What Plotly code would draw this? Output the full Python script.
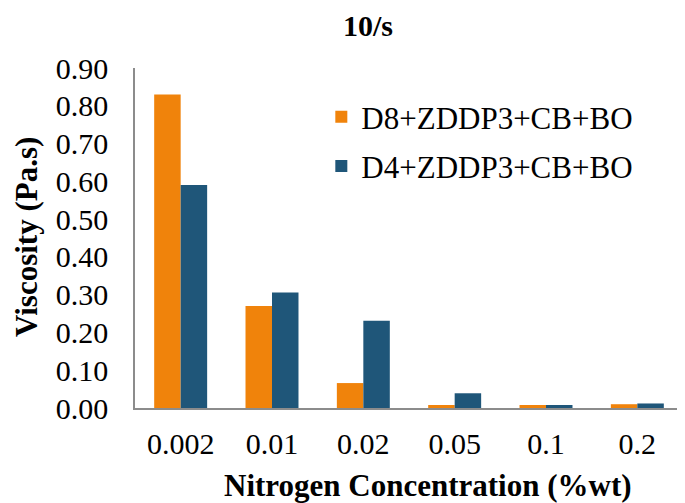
import plotly.graph_objects as go

categories = ["0.002", "0.01", "0.02", "0.05", "0.1", "0.2"]
d8_values = [0.83, 0.27, 0.066, 0.008, 0.008, 0.010]
d4_values = [0.59, 0.306, 0.231, 0.039, 0.008, 0.012]
series_names = ["D8+ZDDP3+CB+BO", "D4+ZDDP3+CB+BO"]
y_ticks = [0.0, 0.1, 0.2, 0.3, 0.4, 0.5, 0.6, 0.7, 0.8, 0.9]

FONT = "Times New Roman, Liberation Serif, serif"
OFF = 8  # page body margin offset

fig = go.Figure()
fig.add_trace(go.Bar(x=categories, y=d8_values, name=series_names[0],
                     marker=dict(color="#F0830B", line=dict(width=0)),
                     legendgroup="a"))
fig.add_trace(go.Bar(x=categories, y=d4_values, name=series_names[1],
                     marker=dict(color="#1F5679", line=dict(width=0)),
                     legendgroup="b"))

W, H = 685 - OFF, 503 - OFF
PL, PR, PT, PB = 135, 683, 68, 408  # plot area in page pixels


def px2paper_x(px):
    return (px - PL) / (PR - PL)


def px2paper_y(py):
    return (PB - py) / (PB - PT)


fig.update_layout(
    width=W, height=H,
    margin=dict(l=PL - OFF, r=W - (PR - OFF), t=PT - OFF, b=H - (PB - OFF),
                autoexpand=False),
    paper_bgcolor="white", plot_bgcolor="white",
    font=dict(family=FONT, color="black"),
    barmode="group", bargap=0.42, bargroupgap=0,
    legend=dict(x=0.34, y=0.935, xanchor="left", yanchor="top",
                font=dict(size=31, family=FONT),
                traceorder="grouped", tracegroupgap=6,
                bgcolor="rgba(0,0,0,0)"),
    xaxis=dict(showline=True, linecolor="#8C8C8C", linewidth=2,
               ticks="", showgrid=False, automargin=False,
               tickfont=dict(size=30, family=FONT),
               ticklabelstandoff=8),
    yaxis=dict(range=[0, 0.9], tickvals=y_ticks,
               ticktext=[f"{v:.2f}" for v in y_ticks],
               showline=True, linecolor="#8C8C8C", linewidth=1.5,
               ticks="", showgrid=False, zeroline=False, automargin=False,
               tickfont=dict(size=30, family=FONT), ticklabelstandoff=19),
    annotations=[
        dict(text="<b>10/s</b>", xref="paper", yref="paper",
             x=px2paper_x(368), y=px2paper_y(25), xanchor="center",
             yanchor="middle", showarrow=False, font=dict(size=30, family=FONT)),
        dict(text="<b>Nitrogen Concentration (%wt)</b>", xref="paper", yref="paper",
             x=px2paper_x(428), y=px2paper_y(485), xanchor="center",
             yanchor="middle", showarrow=False, font=dict(size=31, family=FONT)),
        dict(text="<b>Viscosity (Pa.s)</b>", xref="paper", yref="paper",
             x=px2paper_x(26), y=px2paper_y(237), xanchor="center",
             yanchor="middle", textangle=-90, showarrow=False,
             font=dict(size=31, family=FONT)),
    ],
)

fig.write_html("out.html")
